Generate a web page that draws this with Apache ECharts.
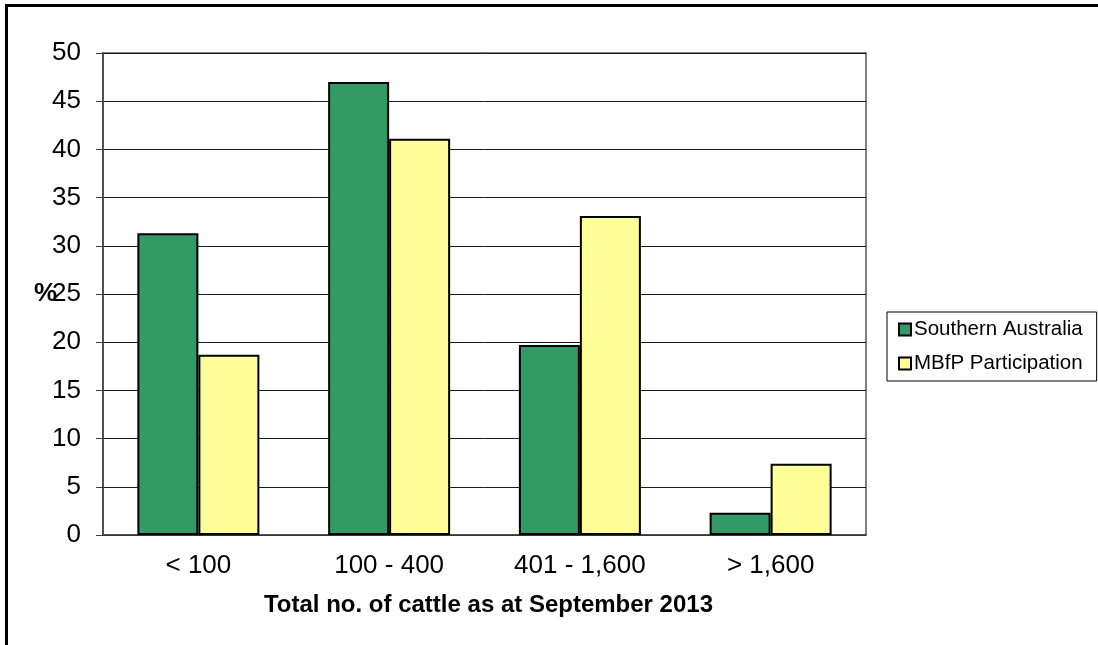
<!DOCTYPE html>
<html>
<head>
<meta charset="utf-8">
<script src="https://cdn.jsdelivr.net/npm/echarts@6/dist/echarts.min.js"></script>
<style>
  html, body { margin: 0; padding: 0; background: #fff; }
  #chart { width: 1098px; height: 645px; }
</style>
</head>
<body>
<div id="chart"></div>
<script>
var categories = ['< 100', '100 - 400', '401 - 1,600', '> 1,600'];
var southern = [31.3, 47.0, 19.7, 2.3];
var mbfp = [18.7, 41.1, 33.1, 7.4];
var yTicks = [0, 50, 5]; // min, max, interval

var chart = echarts.init(document.getElementById('chart'));
chart.setOption({
    animation: false,
    textStyle: { fontFamily: 'Liberation Sans, Arial, sans-serif' },
    graphic: [{
        type: 'rect',
        shape: { x: 6.5, y: 5.5, width: 1200, height: 700 },
        style: { fill: 'none', stroke: '#000', lineWidth: 3 },
        silent: true
    }],
    grid: {
        left: 103, right: 232, top: 53, bottom: 110,
        show: true,
        borderColor: '#808080',
        borderWidth: 2,
        outerBoundsMode: 'none'
    },
    legend: {
        orient: 'vertical',
        left: 887,
        top: 312,
        padding: [7, 14, 7, 11],
        itemGap: 13,
        itemWidth: 12,
        itemHeight: 12,
        borderColor: '#000',
        borderWidth: 1,
        icon: 'rect',
        textStyle: { fontSize: 20.5, color: '#000', padding: [0, 0, 0, -2] },
        data: ['Southern Australia', 'MBfP Participation']
    },
    xAxis: {
        type: 'category',
        data: categories,
        name: 'Total no. of cattle as at September 2013',
        nameLocation: 'middle',
        nameGap: 58,
        nameTextStyle: { fontSize: 24, fontWeight: 'bold', color: '#000', padding: [0, 0, 0, 8] },
        axisLine: { lineStyle: { color: '#404040', width: 1.5 } },
        axisTick: { length: 8, lineStyle: { color: '#404040' } },
        axisLabel: { fontSize: 26, color: '#000', margin: 18 }
    },
    yAxis: {
        type: 'value',
        min: yTicks[0],
        max: yTicks[1],
        interval: yTicks[2],
        name: '%',
        nameLocation: 'middle',
        nameRotate: 0,
        nameGap: 46,
        nameMoveOverlap: false,
        nameTextStyle: { fontSize: 26, fontWeight: 'bold', color: '#000', align: 'right' },
        axisLine: { show: true, lineStyle: { color: '#404040', width: 1.5 } },
        axisTick: { show: true, length: 7, lineStyle: { color: '#404040' } },
        axisLabel: { fontSize: 26, color: '#000', margin: 22 },
        splitLine: { lineStyle: { color: '#1a1a1a', width: 1 } }
    },
    series: [
        {
            name: 'Southern Australia',
            type: 'bar',
            data: southern,
            barWidth: 61,
            barGap: '0%',
            itemStyle: { color: '#339966', borderColor: '#000', borderWidth: 2 }
        },
        {
            name: 'MBfP Participation',
            type: 'bar',
            data: mbfp,
            barWidth: 61,
            itemStyle: { color: '#FFFF99', borderColor: '#000', borderWidth: 2 }
        }
    ]
});
</script>
</body>
</html>
